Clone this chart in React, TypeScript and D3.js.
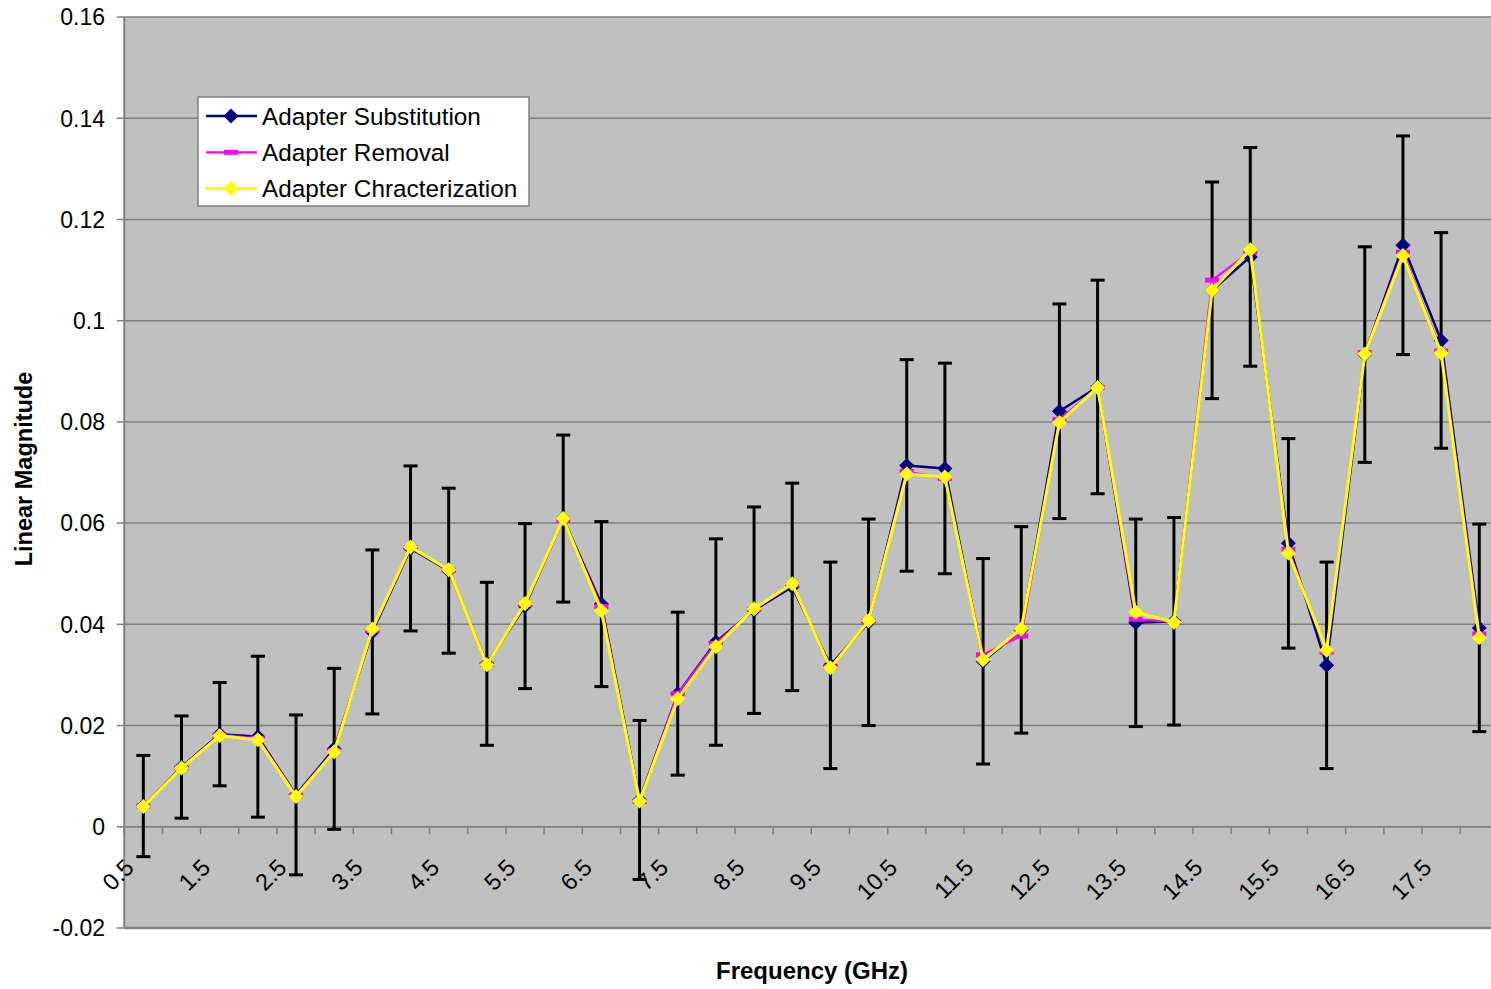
import React from 'react';
import * as d3 from 'd3';

// frequency categories (GHz)
const categories = ["0.5", "1", "1.5", "2", "2.5", "3", "3.5", "4", "4.5", "5", "5.5", "6", "6.5", "7", "7.5", "8", "8.5", "9", "9.5", "10", "10.5", "11", "11.5", "12", "12.5", "13", "13.5", "14", "14.5", "15", "15.5", "16", "16.5", "17", "17.5", "18"];

const substitution = [0.0041, 0.0118, 0.0183, 0.0178, 0.0063, 0.0154, 0.0385, 0.0550, 0.0506, 0.0322, 0.0436, 0.0609, 0.0440, 0.0053, 0.0263, 0.0365, 0.0428, 0.0474, 0.0319, 0.0404, 0.0714, 0.0708, 0.0327, 0.0389, 0.0821, 0.0869, 0.0403, 0.0406, 0.1060, 0.1126, 0.0560, 0.0319, 0.0933, 0.1149, 0.0961, 0.0393];

const removal = [0.0041, 0.0117, 0.0181, 0.0175, 0.0062, 0.0151, 0.0388, 0.0552, 0.0507, 0.0321, 0.0439, 0.0606, 0.0435, 0.0050, 0.0263, 0.0362, 0.0430, 0.0478, 0.0316, 0.0406, 0.0702, 0.0688, 0.0340, 0.0377, 0.0805, 0.0868, 0.0410, 0.0405, 0.1080, 0.1136, 0.0548, 0.0345, 0.0937, 0.1135, 0.0940, 0.0381];

const characterization = [0.0040, 0.0116, 0.0180, 0.0172, 0.0060, 0.0148, 0.0391, 0.0553, 0.0508, 0.0320, 0.0441, 0.0609, 0.0427, 0.0051, 0.0253, 0.0356, 0.0431, 0.0480, 0.0314, 0.0407, 0.0697, 0.0691, 0.0330, 0.0391, 0.0799, 0.0868, 0.0424, 0.0404, 0.1060, 0.1140, 0.0541, 0.0349, 0.0934, 0.1129, 0.0936, 0.0374];

// +/- error on the substitution series
const errors = [0.0100, 0.0101, 0.0102, 0.0159, 0.0158, 0.0159, 0.0162, 0.0163, 0.0163, 0.0161, 0.0163, 0.0165, 0.0163, 0.0157, 0.0161, 0.0204, 0.0204, 0.0205, 0.0204, 0.0204, 0.0209, 0.0208, 0.0203, 0.0204, 0.0212, 0.0211, 0.0205, 0.0205, 0.0214, 0.0216, 0.0207, 0.0204, 0.0213, 0.0216, 0.0213, 0.0205];

const yTicks = [-0.02, 0, 0.02, 0.04, 0.06, 0.08, 0.1, 0.12, 0.14, 0.16];
const xLabels = ["0.5", "1.5", "2.5", "3.5", "4.5", "5.5", "6.5", "7.5", "8.5", "9.5", "10.5", "11.5", "12.5", "13.5", "14.5", "15.5", "16.5", "17.5"];

const seriesNames = ["Adapter Substitution", "Adapter Removal", "Adapter Chracterization"];

const font = "'Liberation Sans', Arial, sans-serif";

const App = () => {
    const left = 124.25;
    const bw = 38.17;
    const top = 17;
    const bottom = 928;

    const x = d3.scaleBand().domain(categories).range([left, left + bw * categories.length]).padding(0);
    const cx = (c: string) => (x(c) as number) + x.bandwidth() / 2;
    const y = d3.scaleLinear().domain([-0.02, 0.16]).range([bottom, top]);
    const plotRight = left + bw * categories.length;

    const lineGen = (vals: number[]) =>
        d3.line<number>().x((_, i) => cx(categories[i])).y(v => y(v))(vals) as string;

    // square-ish diamond like the excel marker
    const diamond = 'M0,-7.5L7.5,0L0,7.5L-7.5,0Z';

    const series = [
        { name: seriesNames[0], vals: substitution, color: '#000080', width: 2.5, marker: 'diamond' },
        { name: seriesNames[1], vals: removal, color: '#FF00FF', width: 2.2, marker: 'dash' },
        { name: seriesNames[2], vals: characterization, color: '#FFFF00', width: 3, marker: 'diamond' },
    ];

    const marker = (s: any, px: number, py: number, key: any) =>
        s.marker === 'diamond'
            ? <path key={key} d={diamond} transform={`translate(${px},${py})`} fill={s.color} />
            : <rect key={key} x={px - 7} y={py - 2.5} width={14} height={5} fill={s.color} />;

    // boundaries between categories for the tick marks
    const boundaries = d3.range(categories.length + 1).map(i => left + i * bw);

    return (
        <div style={{ position: 'fixed', left: 0, top: 0, width: 1491, height: 989, overflow: 'hidden', background: '#fff' }}>
            <svg width={1510} height={989} style={{ display: 'block' }} fontFamily={font}>
                {/* plot area */}
                <rect x={left} y={top} width={plotRight - left} height={bottom - top} fill="#C0C0C0" />

                {/* gridlines */}
                {yTicks.filter(t => t > -0.02).map(t => (
                    <line key={'g' + t} x1={left} x2={plotRight} y1={y(t)} y2={y(t)} stroke="#808080" strokeWidth={1.5} />
                ))}

                {/* bottom border + y axis */}
                <line x1={left} x2={plotRight} y1={bottom} y2={bottom} stroke="#808080" strokeWidth={2.5} />
                <line x1={left} x2={left} y1={top} y2={bottom} stroke="#808080" strokeWidth={2} />

                {/* y ticks and labels */}
                {yTicks.map(t => (
                    <g key={'yt' + t}>
                        <line x1={left - 7.5} x2={left} y1={y(t)} y2={y(t)} stroke="#808080" strokeWidth={1.5} />
                        <text x={105} y={y(t)} dy="0.36em" textAnchor="end" fontSize={23} fill="#000">{String(t)}</text>
                    </g>
                ))}

                {/* category axis on zero */}
                <line x1={left} x2={plotRight} y1={y(0)} y2={y(0)} stroke="#808080" strokeWidth={1.5} />
                {boundaries.map((b, i) => (
                    <line key={'xt' + i} x1={b} x2={b} y1={y(0)} y2={y(0) + 7.5} stroke="#808080" strokeWidth={1.5} />
                ))}
                {xLabels.map(l => (
                    <text key={'xl' + l} transform={`translate(${cx(l) - 8},${869}) rotate(-45)`} textAnchor="end" fontSize={23.5} fill="#000">{l}</text>
                ))}

                {/* error bars */}
                {substitution.map((v, i) => {
                    const px = cx(categories[i]);
                    const y1 = y(v + errors[i]);
                    const y2 = y(v - errors[i]);
                    return (
                        <g key={'e' + i} stroke="#000" strokeWidth={3}>
                            <line x1={px} x2={px} y1={y1} y2={y2} />
                            <line x1={px - 7} x2={px + 7} y1={y1} y2={y1} />
                            <line x1={px - 7} x2={px + 7} y1={y2} y2={y2} />
                        </g>
                    );
                })}

                {/* series */}
                {series.map(s => (
                    <g key={s.name}>
                        <path d={lineGen(s.vals)} fill="none" stroke={s.color} strokeWidth={s.width} strokeLinejoin="round" />
                        {s.vals.map((v, i) => marker(s, cx(categories[i]), y(v), i))}
                    </g>
                ))}

                {/* legend */}
                <rect x={198} y={97} width={331} height={109} fill="#fff" stroke="#808080" strokeWidth={1.5} />
                {series.map((s, i) => {
                    const ly = 116 + i * 36.3;
                    return (
                        <g key={'lg' + i}>
                            <line x1={206} x2={257} y1={ly} y2={ly} stroke={s.color} strokeWidth={s.width} />
                            {marker(s, 231, ly, 'm')}
                            <text x={262} y={ly} dy="0.36em" fontSize={24.3} fill="#000">{s.name}</text>
                        </g>
                    );
                })}

                {/* axis titles */}
                <text x={812} y={979} textAnchor="middle" fontSize={24} fontWeight="bold" fill="#000">Frequency (GHz)</text>
                <text transform={`translate(32,469) rotate(-90)`} textAnchor="middle" fontSize={23.5} fontWeight="bold" fill="#000">Linear Magnitude</text>
            </svg>
        </div>
    );
};

export default App;
